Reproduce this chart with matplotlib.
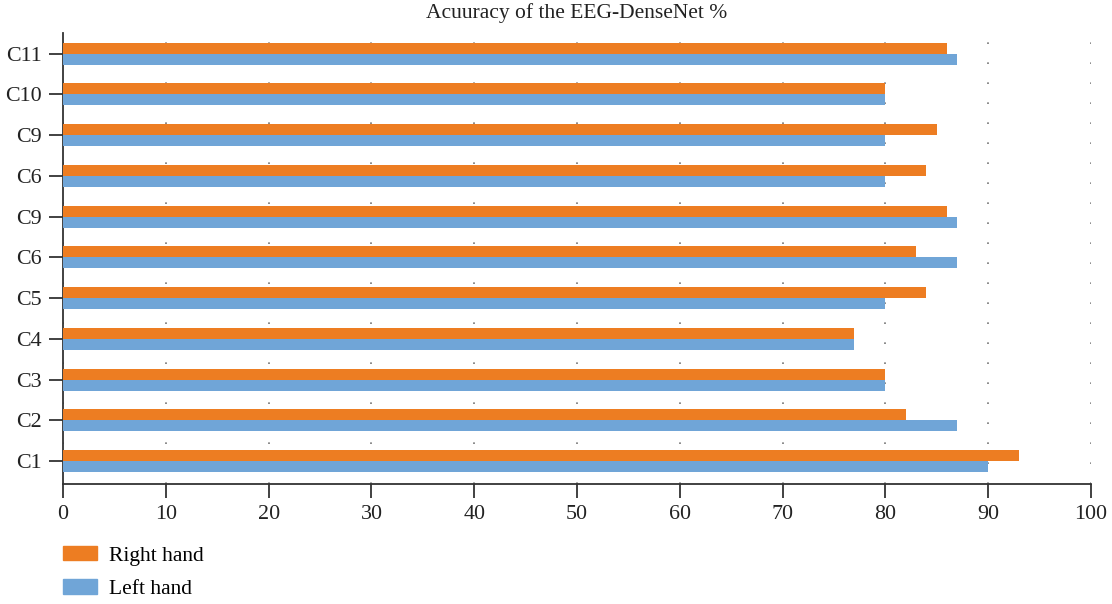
import matplotlib as mpl
import matplotlib.pyplot as plt
import numpy as np
from matplotlib.patches import Patch

ORANGE = "#ED7D22"
BLUE = "#70A5D7"
SPINE = "#333333"

# bottom to top, as drawn
CHANNELS = ["C1", "C2", "C3", "C4", "C5", "C6", "C9", "C6", "C9", "C10", "C11"]
RIGHT_HAND = [93, 82, 80, 77, 84, 83, 86, 84, 85, 80, 86]
LEFT_HAND = [90, 87, 80, 77, 80, 87, 87, 80, 80, 80, 87]
X_TICKS = [0, 10, 20, 30, 40, 50, 60, 70, 80, 90, 100]

mpl.rcParams.update(
    {
        "font.family": ["Liberation Serif", "DejaVu Serif"],
        "font.size": 15,
        "axes.edgecolor": SPINE,
        "axes.linewidth": 1.3,
        "xtick.color": SPINE,
        "ytick.color": SPINE,
        "xtick.labelcolor": "#222222",
        "ytick.labelcolor": "#222222",
    }
)

fig, ax = plt.subplots(figsize=(11.12, 6.04), dpi=100)
fig.subplots_adjust(left=0.0567, right=0.981, top=0.945, bottom=0.199)

y = np.arange(len(CHANNELS))
h = 0.27
ax.barh(y + h / 2, RIGHT_HAND, height=h, color=ORANGE, zorder=3, label="Right hand")
ax.barh(y - h / 2, LEFT_HAND, height=h, color=BLUE, zorder=3, label="Left hand")

ax.set_xlim(0, 100)
ax.set_ylim(-0.56, 10.5)
ax.set_xticks(X_TICKS)
ax.set_yticks(y, labels=CHANNELS)
ax.tick_params(axis="both", length=10, width=1.3, labelsize=15.8, pad=5)
ax.xaxis.grid(True, color="#777777", linestyle=(0, (1, 11)), linewidth=1.2, zorder=1)
ax.spines["top"].set_visible(False)
ax.spines["right"].set_visible(False)

ax.set_title("Acuuracy of the EEG-DenseNet %", fontsize=15.5, pad=11, color="#222222")

handles = [Patch(color=ORANGE), Patch(color=BLUE)]
fig.legend(
    handles,
    ["Right hand", "Left hand"],
    loc="upper left",
    bbox_to_anchor=(0.039, 0.128),
    frameon=False,
    fontsize=15.5,
    handlelength=1.6,
    handleheight=0.65,
    handletextpad=0.55,
    labelspacing=0.62,
)

fig.savefig("out.png", dpi=100)
